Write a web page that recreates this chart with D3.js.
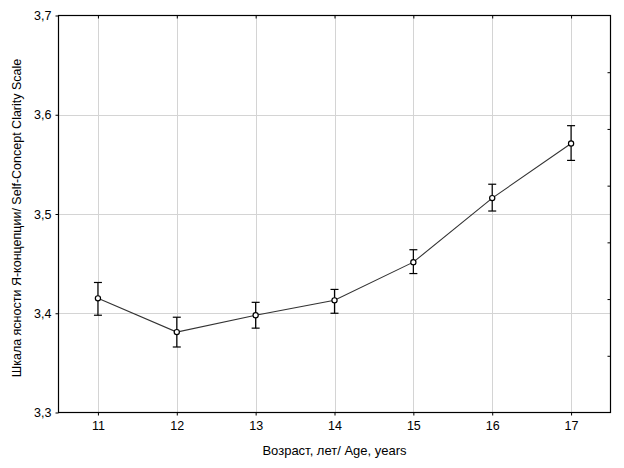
<!DOCTYPE html>
<html><head><meta charset="utf-8">
<script src="https://cdn.jsdelivr.net/npm/d3@7"></script>
<style>body{margin:0;background:#fff}svg{display:block;font-family:"Liberation Sans",Arial,sans-serif}</style>
</head><body><svg id="c" width="624" height="468"></svg>
<script>
const ages = [11, 12, 13, 14, 15, 16, 17];
const means = [3.415, 3.381, 3.398, 3.413, 3.4515, 3.516, 3.571];
const lower = [3.398, 3.366, 3.385, 3.400, 3.440, 3.503, 3.554];
const upper = [3.431, 3.396, 3.411, 3.424, 3.464, 3.530, 3.589];
const yTicks = [3.3, 3.4, 3.5, 3.6, 3.7];
const xLabel = "Возраст, лет/ Age, years";
const yLabel = "Шкала ясности Я-концепции/ Self-Concept Clarity Scale";

const L = 58.5, R = 610.5, T = 15.5, B = 412.5;
const svg = d3.select("#c");
const x = d3.scaleLinear().domain([10.5, 17.5]).range([L, R]);
const y = d3.scaleLinear().domain([3.3, 3.7]).range([B, T]);
const fmt = d => d3.format(".1f")(d).replace(".", ",");

// grid
const g = svg.append("g");
g.selectAll("line.vx").data(ages).join("line")
  .attr("x1", d => Math.round(x(d)) + 0.5).attr("x2", d => Math.round(x(d)) + 0.5)
  .attr("y1", T).attr("y2", B).attr("stroke", "#d4d4d4");
g.selectAll("line.hy").data(yTicks.slice(1, -1)).join("line")
  .attr("y1", d => Math.round(y(d)) + 0.5).attr("y2", d => Math.round(y(d)) + 0.5)
  .attr("x1", L).attr("x2", R).attr("stroke", "#d4d4d4");

// axes
const xAxis = svg.append("g").attr("transform", `translate(0,${B})`)
  .call(d3.axisBottom(x).tickValues(ages).tickSize(3).tickPadding(6).tickFormat(d3.format("d")));
const yAxis = svg.append("g").attr("transform", `translate(${L},0)`)
  .call(d3.axisLeft(y).tickValues(yTicks).tickSize(3).tickPadding(4).tickFormat(fmt));
const topAxis = svg.append("g").attr("transform", `translate(0,${T})`)
  .call(d3.axisTop(x).tickValues(ages).tickSize(-3).tickFormat(""));
const rightScale = d3.scaleLinear().domain([0, 7]).range([B, T]);
const rightAxis = svg.append("g").attr("transform", `translate(${R},0)`)
  .call(d3.axisRight(rightScale).tickValues([1, 2, 3, 4, 5, 6]).tickSize(-3).tickFormat(""));
[xAxis, yAxis, topAxis, rightAxis].forEach(a => {
  a.select(".domain").remove();
  a.selectAll("line").attr("stroke", "#000");
  a.selectAll("text").attr("font-size", 12.5).attr("fill", "#000")
    .attr("font-family", '"Liberation Sans",Arial,sans-serif');
});
svg.append("rect").attr("x", L).attr("y", T).attr("width", R - L).attr("height", B - T)
  .attr("fill", "none").attr("stroke", "#000").attr("stroke-width", 1.2);

// error bars
const data = ages.map((a, i) => ({a, m: means[i], lo: lower[i], hi: upper[i]}));
const eb = svg.append("g").attr("stroke", "#000").attr("stroke-width", 1.2);
eb.selectAll("line.v").data(data).join("line")
  .attr("x1", d => x(d.a)).attr("x2", d => x(d.a)).attr("y1", d => y(d.lo)).attr("y2", d => y(d.hi));
eb.selectAll("line.t").data(data).join("line")
  .attr("x1", d => x(d.a) - 4).attr("x2", d => x(d.a) + 4).attr("y1", d => y(d.hi)).attr("y2", d => y(d.hi));
eb.selectAll("line.b").data(data).join("line")
  .attr("x1", d => x(d.a) - 4).attr("x2", d => x(d.a) + 4).attr("y1", d => y(d.lo)).attr("y2", d => y(d.lo));

// line
svg.append("path").datum(data)
  .attr("d", d3.line().x(d => x(d.a)).y(d => y(d.m)))
  .attr("fill", "none").attr("stroke", "#333").attr("stroke-width", 1.1);
svg.selectAll("circle.p").data(data).join("circle")
  .attr("cx", d => x(d.a)).attr("cy", d => y(d.m)).attr("r", 2.6)
  .attr("fill", "#fff").attr("stroke", "#000").attr("stroke-width", 1.2);

// labels
svg.append("text").attr("x", (L + R) / 2).attr("y", 455).attr("text-anchor", "middle")
  .attr("font-size", 13).text(xLabel);
svg.append("text").attr("transform", `translate(21,${(T + B) / 2 + 4}) rotate(-90)`)
  .attr("text-anchor", "middle").attr("font-size", 12.5).text(yLabel);
</script></body></html>
